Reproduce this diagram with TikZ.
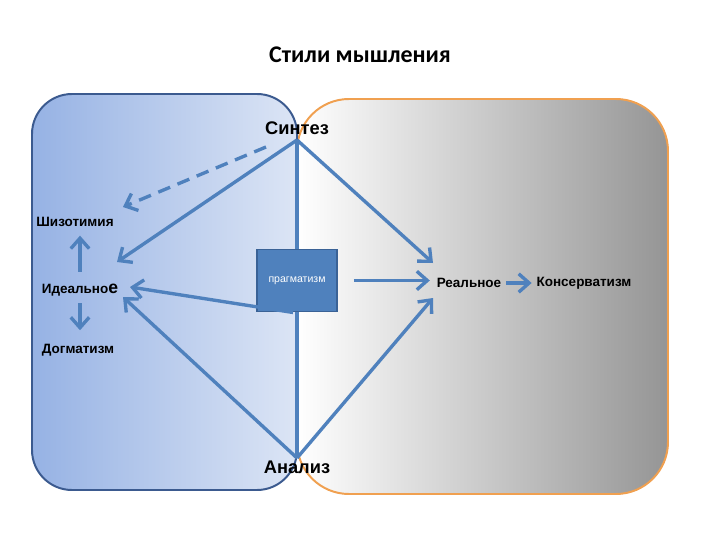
\documentclass[tikz,border=0pt]{standalone}
\usepackage{fontspec}
\setmainfont{Liberation Sans}
\newfontfamily\titlefont{Carlito}
\usepackage{tikz}
\usetikzlibrary{arrows.meta,positioning}
\definecolor{arrblue}{HTML}{4F81BD}
\definecolor{edgeblue}{HTML}{3B5A8F}
\definecolor{boxedge}{HTML}{3A6296}
\definecolor{fillblueL}{HTML}{96B2E4}
\definecolor{fillblueR}{HTML}{DCE5F5}
\definecolor{fillgrayR}{HTML}{959595}
\definecolor{porange}{HTML}{F0A050}

\begin{document}
\begin{tikzpicture}[x=0.25mm,y=-0.25mm,
  arr/.style={draw=arrblue,line width=2.4pt,-{Straight Barb[length=2.6mm,width=4.6mm]}},
  lbl/.style={font=\fontsize{9.6}{10}\selectfont\bfseries},
  big/.style={font=\fontsize{13}{14}\selectfont\bfseries}]
\useasboundingbox (0,0) rectangle (720,540);
% ---- the two fields -----------------------------------------------------
\draw[porange,line width=1.4pt,rounded corners=13mm,left color=white,right color=fillgrayR]
  (297,99) rectangle (668,494);
\draw[edgeblue,line width=1.4pt,rounded corners=10mm,left color=fillblueL,right color=fillblueR]
  (32,94) rectangle (297,490);
% ---- labels -------------------------------------------------------------
\node[font=\titlefont\fontsize{17}{19}\selectfont\bfseries] (title) at (360,55) {Стили мышления};
\node[big] (syn) at (297,128) {Синтез};
\node[big] (an) at (297,467) {Анализ};
\node[lbl] (shiz) at (75,222) {Шизотимия};
\node[lbl] (ideal) at (80,290) {Идеально{\fontsize{12.5}{12}\selectfont е}};
\node[lbl] (dog) at (78,350) {Догматизм};
\node[lbl] (real) at (469,283) {Реальное};
\node[lbl] (kons) at (584,283) {Консерватизм};
\coordinate (synpt) at (297,140);
\coordinate (anpt) at (297,458);
% arrow tips that stop short of their labels
\coordinate (dashend) at (123,207);
\coordinate (idealA) at (117,262);
\coordinate (idealB) at (130,287);
\coordinate (idealC) at (123,297);
\coordinate (realA) at (433,263);
\coordinate (realB) at (433,298);
% ---- connectors ---------------------------------------------------------
\draw[arrblue,line width=2.4pt] (synpt) -- (anpt);
\node[draw=boxedge,line width=1.4pt,fill=arrblue,minimum width=20mm,minimum height=15.5mm,
  text=white,font=\fontsize{7.5}{8}\selectfont] (prag) at (297,280.5) {прагматизм};
\draw[arr,dash pattern=on 3.2mm off 2mm] (266,147) -- (dashend);
\draw[arr] (synpt) -- (idealA);
\draw[arr] (synpt) -- (realA);
\draw[arr] (anpt) -- (idealC);
\draw[arr] (anpt) -- (realB);
\draw[arr] ([xshift=-1mm]prag.south) -- (idealB);
\draw[arr,shorten <=4mm,shorten >=0.5mm] (prag.east) -- (prag.east -| real.west);
\draw[arr] (real.east) -- (kons.west);
\draw[arr,shorten <=1.8mm,shorten >=1mm] (ideal.north) -- (ideal.north |- shiz.south);
\draw[arr,shorten <=0.5mm,shorten >=2.2mm] (ideal.south) -- (ideal.south |- dog.north);
\end{tikzpicture}
\end{document}
